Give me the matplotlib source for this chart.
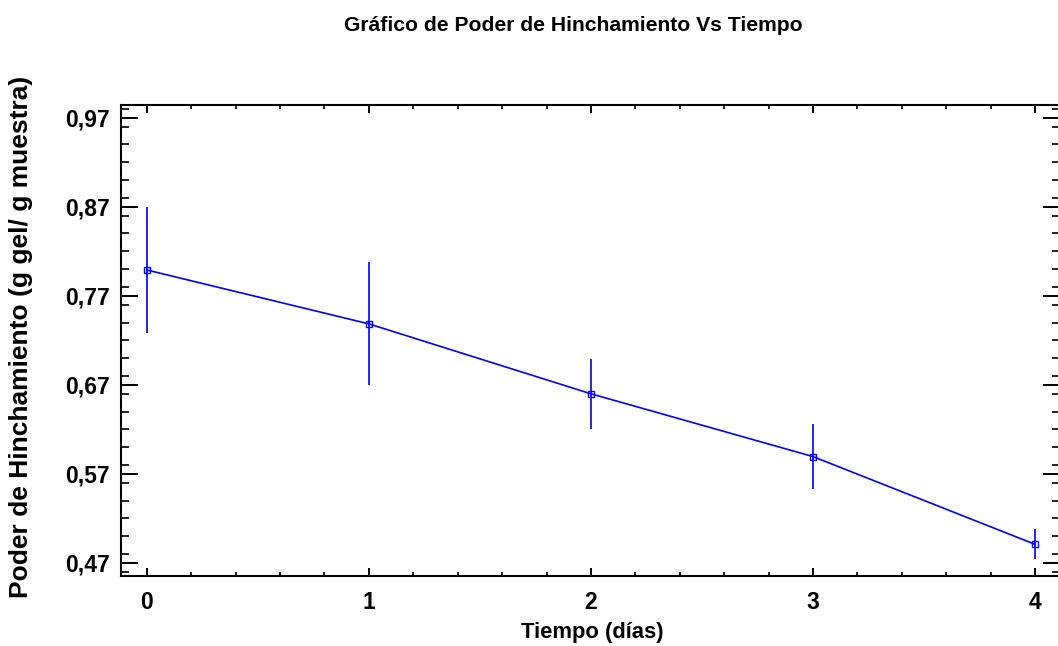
#!/usr/bin/env python3
"""Swelling power vs time with error bars."""

import matplotlib
matplotlib.use("Agg")
import matplotlib.pyplot as plt
from matplotlib.ticker import FixedLocator, MultipleLocator, FuncFormatter

# data
dias = [0, 1, 2, 3, 4]
poder = [0.799, 0.7385, 0.660, 0.5895, 0.491]
error = [0.071, 0.069, 0.039, 0.0366, 0.0166]

y_ticks = [0.47, 0.57, 0.67, 0.77, 0.87, 0.97]
x_ticks = [0, 1, 2, 3, 4]

TITLE = "Gráfico de Poder de Hinchamiento Vs Tiempo"
X_LABEL = "Tiempo (días)"
Y_LABEL = "Poder de Hinchamiento (g gel/ g muestra)"

plt.rcParams["font.family"] = ["Liberation Sans", "DejaVu Sans"]
plt.rcParams["font.weight"] = "bold"

W, H = 1058, 646
fig = plt.figure(figsize=(W / 100, H / 100), dpi=100)
left, right, top, bottom = 120.7, 1060, 105, 575.7
ax = fig.add_axes([left / W, 1 - bottom / H, (right - left) / W, (bottom - top) / H])

blue = "#0000ff"
ax.errorbar(dias, poder, yerr=error, color=blue, lw=1.2, elinewidth=1.2,
            marker="s", ms=4.2, mfc="none", mec=blue, mew=1.0, capsize=0)

ax.set_xlim(-0.118, 4.113)
ax.set_ylim(0.4557, 0.9843)

ax.xaxis.set_major_locator(FixedLocator(x_ticks))
ax.xaxis.set_minor_locator(MultipleLocator(0.2))
ax.yaxis.set_major_locator(FixedLocator(y_ticks))
ax.yaxis.set_minor_locator(MultipleLocator(0.02))
ax.yaxis.set_major_formatter(FuncFormatter(lambda v, p: f"{v:.2f}".replace(".", ",")))

ax.tick_params(axis="both", which="both", direction="in", top=True, right=True,
               colors="black", labelsize=16.5)
ax.tick_params(axis="y", which="major", length=12.2, width=1.4, pad=7.7)
ax.tick_params(axis="y", which="minor", length=5.8, width=1.2)
ax.tick_params(axis="x", which="major", length=5.8, width=1.4, pad=11.0)
ax.tick_params(axis="x", which="minor", length=2.9, width=1.2)
for lbl in ax.get_xticklabels() + ax.get_yticklabels():
    lbl.set_fontweight("bold")

for spine in ax.spines.values():
    spine.set_linewidth(1.5)

fig.text(573 / W, 1 - 30.7 / H, TITLE, ha="center", va="baseline",
         fontsize=15.2, fontweight="bold")
fig.text(592 / W, 1 - 638 / H, X_LABEL, ha="center", va="baseline",
         fontsize=15.8, fontweight="bold")
fig.text(21 / W, 1 - 337 / H, Y_LABEL, ha="center", va="center",
         rotation=90, fontsize=19, fontweight="bold")

fig.savefig("out.png", dpi=100)
